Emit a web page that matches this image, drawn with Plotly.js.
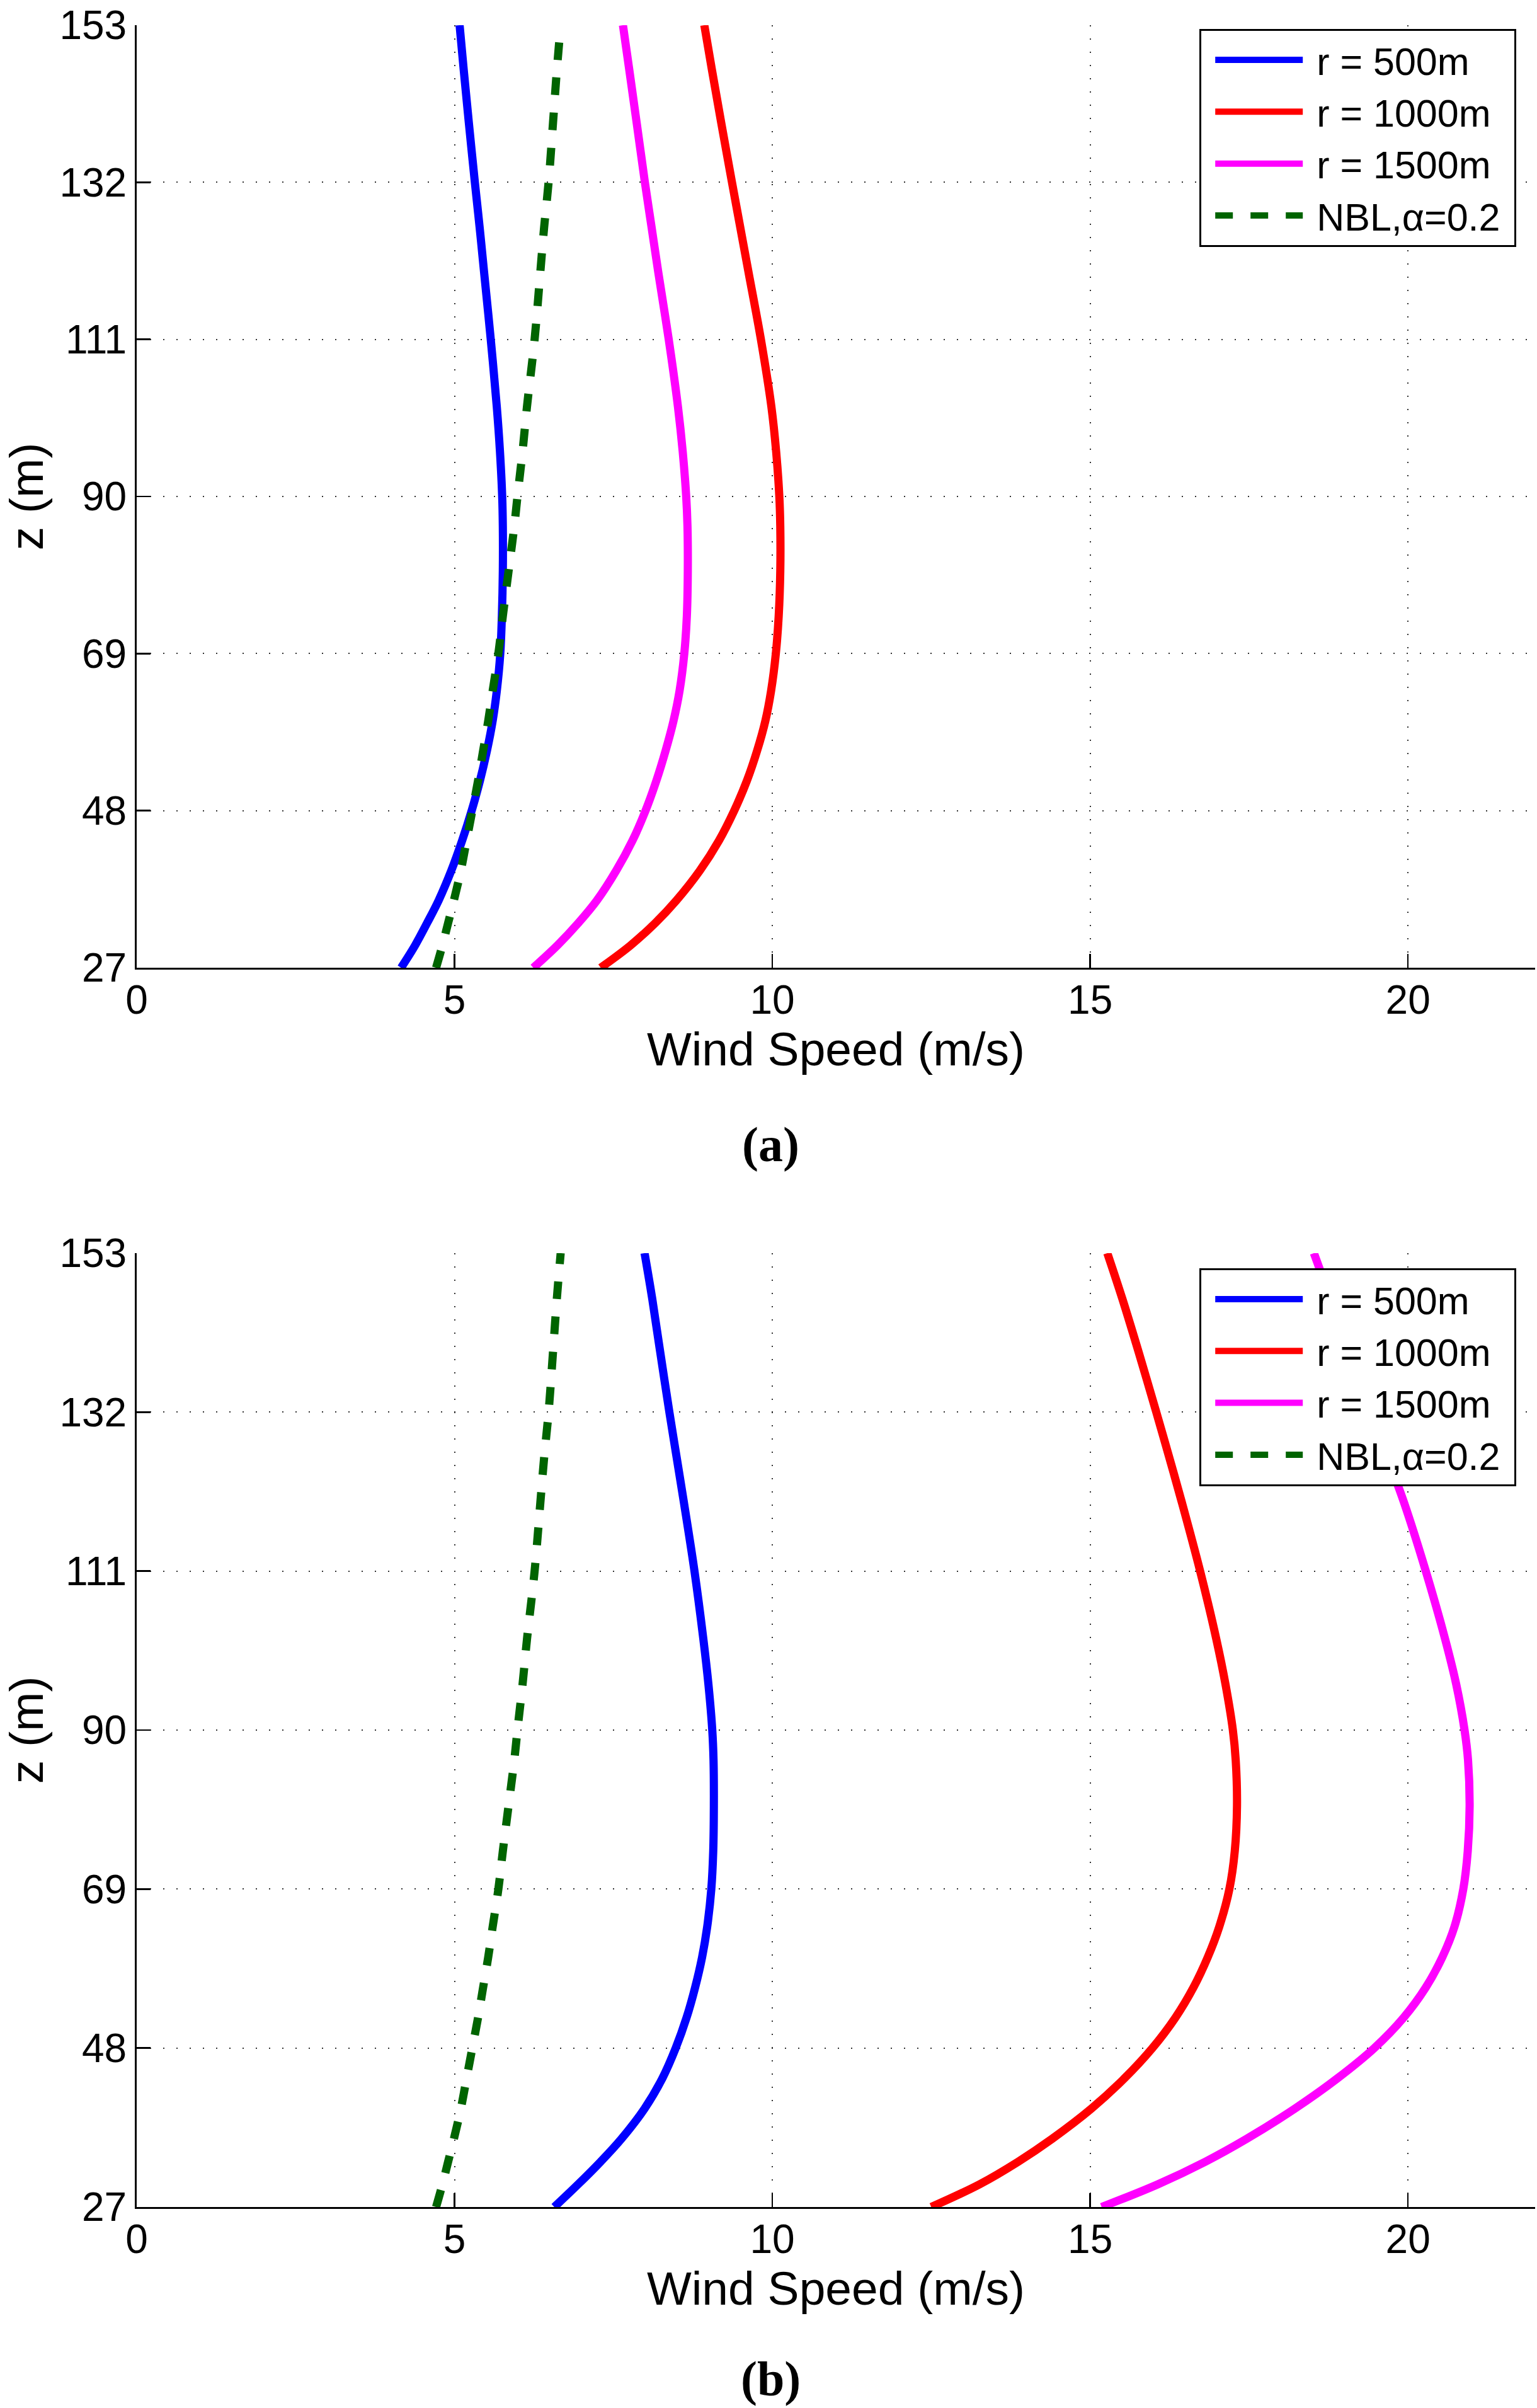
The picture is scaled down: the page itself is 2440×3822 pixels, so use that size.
<!DOCTYPE html>
<html>
<head>
<meta charset="utf-8">
<script src="https://cdn.plot.ly/plotly-3.0.1.min.js"></script>
<style>html,body{margin:0;padding:0;background:#fff;}#chart{width:2440px;height:3822px;}</style>
</head>
<body>
<div id="chart"></div>
<script>
// Heights (m) at which the profiles were read
const zHeights = [27, 30, 33, 36, 40, 44, 48, 52, 56, 60, 64, 69, 74, 80, 86, 90, 96, 102, 111, 120, 126, 132, 140, 147, 153];

// Panel (a) wind speeds (m/s)
const a_r500  = [4.16, 4.38, 4.57, 4.75, 4.95, 5.12, 5.27, 5.40, 5.51, 5.60, 5.665, 5.72, 5.745, 5.76, 5.76, 5.75, 5.715, 5.665, 5.57, 5.465, 5.395, 5.32, 5.225, 5.145, 5.08];
const a_r1000 = [7.30, 7.77, 8.16, 8.49, 8.86, 9.16, 9.40, 9.60, 9.76, 9.89, 9.98, 10.055, 10.10, 10.125, 10.125, 10.11, 10.06, 9.985, 9.82, 9.625, 9.495, 9.365, 9.195, 9.05, 8.93];
const a_r1500 = [6.24, 6.62, 6.95, 7.24, 7.545, 7.80, 8.005, 8.175, 8.32, 8.445, 8.54, 8.615, 8.655, 8.67, 8.665, 8.645, 8.59, 8.515, 8.37, 8.205, 8.10, 7.995, 7.865, 7.75, 7.65];
const a_nbl   = [4.71, 4.81, 4.90, 4.99, 5.10, 5.19, 5.28, 5.37, 5.45, 5.53, 5.60, 5.69, 5.76, 5.85, 5.94, 5.99, 6.07, 6.14, 6.26, 6.35, 6.41, 6.48, 6.55, 6.61, 6.67];

// Panel (b) wind speeds (m/s)
const b_r500  = [6.57, 6.945, 7.30, 7.625, 7.99, 8.27, 8.48, 8.65, 8.785, 8.895, 8.975, 9.04, 9.07, 9.08, 9.075, 9.055, 8.995, 8.915, 8.775, 8.61, 8.495, 8.38, 8.235, 8.11, 7.99];
const b_r1000 = [12.50, 13.26, 13.87, 14.40, 15.02, 15.54, 15.98, 16.34, 16.625, 16.85, 17.03, 17.19, 17.275, 17.31, 17.29, 17.245, 17.13, 16.985, 16.73, 16.445, 16.245, 16.04, 15.76, 15.505, 15.27];
const b_r1500 = [15.18, 16.065, 16.815, 17.46, 18.22, 18.89, 19.47, 19.93, 20.28, 20.54, 20.73, 20.87, 20.94, 20.97, 20.945, 20.89, 20.76, 20.585, 20.28, 19.94, 19.68, 19.42, 19.08, 18.78, 18.52];
const b_nbl   = [4.71, 4.81, 4.90, 4.99, 5.10, 5.19, 5.28, 5.37, 5.45, 5.53, 5.60, 5.69, 5.76, 5.85, 5.94, 5.99, 6.07, 6.14, 6.26, 6.35, 6.41, 6.48, 6.55, 6.61, 6.67];

const seriesNames = ['r = 500m', 'r = 1000m', 'r = 1500m', 'NBL,\u03b1=0.2'];
const seriesColors = ['#0000ff', '#ff0000', '#ff00ff', '#006400'];
const yTicks = [27, 48, 69, 90, 111, 132, 153];
const xTicks = [0, 5, 10, 15, 20];

const FONT = 'Liberation Sans, Arial, Helvetica, sans-serif';
const NB = '\u00a0';

function mk(x, i, xa, ya, leg) {
  return {
    x: x, y: zHeights, type: 'scatter', mode: 'lines',
    name: NB + seriesNames[i] + NB, xaxis: xa, yaxis: ya, legend: leg,
    line: {color: seriesColors[i], width: 13, shape: 'spline', smoothing: 1.0,
           dash: i === 3 ? '28px,28px' : 'solid'}
  };
}

const traces = [
  mk(a_r500, 0, 'x', 'y', 'legend'),
  mk(a_r1000, 1, 'x', 'y', 'legend'),
  mk(a_r1500, 2, 'x', 'y', 'legend'),
  mk(a_nbl, 3, 'x', 'y', 'legend'),
  mk(b_r500, 0, 'x2', 'y2', 'legend2'),
  mk(b_r1000, 1, 'x2', 'y2', 'legend2'),
  mk(b_r1500, 2, 'x2', 'y2', 'legend2'),
  mk(b_nbl, 3, 'x2', 'y2', 'legend2')
];

function xax(anchor) {
  return {
    anchor: anchor, range: [0, 22], tickvals: xTicks, ticktext: xTicks.map(String),
    showline: true, linecolor: '#000', linewidth: 3, mirror: false,
    ticks: 'inside', ticklen: 22, tickwidth: 2.5, tickcolor: '#000',
    showgrid: true, gridcolor: '#333', gridwidth: 2, griddash: '2px,19px',
    zeroline: false, tickfont: {family: FONT, size: 64, color: '#000'},
    ticklabelstandoff: -7,
    title: {text: 'Wind Speed (m/s)', font: {family: FONT, size: 75, color: '#000'}, standoff: 0},
    automargin: false, fixedrange: true
  };
}
function yax(anchor, domain) {
  return {
    anchor: anchor, domain: domain, range: [27, 153], tickvals: yTicks, ticktext: yTicks.map(String),
    showline: true, linecolor: '#000', linewidth: 3, mirror: false,
    ticks: 'inside', ticklen: 22, tickwidth: 2.5, tickcolor: '#000',
    showgrid: true, gridcolor: '#333', gridwidth: 2, griddash: '2px,19px',
    zeroline: false, tickfont: {family: FONT, size: 64, color: '#000'},
    ticklabeloverflow: 'allow',
    title: {text: 'z (m)', font: {family: FONT, size: 75, color: '#000'}, standoff: 32},
    automargin: false, fixedrange: true
  };
}

const legendStyle = {
  bgcolor: '#fff', bordercolor: '#000', borderwidth: 3,
  font: {family: FONT, size: 61, color: '#000'},
  xanchor: 'left', yanchor: 'top', itemwidth: 139, indentation: 17, tracegroupgap: 0
};

const layout = {
  width: 2440, height: 3822,
  margin: {l: 217, r: 3, t: 40, b: 319},
  paper_bgcolor: '#fff', plot_bgcolor: '#fff',
  showlegend: true,
  xaxis: xax('y'),
  yaxis: yax('x', [0.5680, 1]),
  xaxis2: xax('y2'),
  yaxis2: yax('x2', [0, 0.4372]),
  legend: Object.assign({x: 0.760, y: 0.9983}, legendStyle),
  legend2: Object.assign({x: 0.760, y: 0.4303}, legendStyle),
  annotations: [
    {text: '<b>(a)</b>', xref: 'paper', yref: 'paper', x: 0.4536, y: 0.4871,
     showarrow: false, xanchor: 'center', yanchor: 'middle',
     font: {family: 'Liberation Serif, Times New Roman, serif', size: 78, color: '#000'}},
    {text: '<b>(b)</b>', xref: 'paper', yref: 'paper', x: 0.4536, y: -0.0788,
     showarrow: false, xanchor: 'center', yanchor: 'middle',
     font: {family: 'Liberation Serif, Times New Roman, serif', size: 78, color: '#000'}}
  ]
};

Plotly.newPlot('chart', traces, layout, {staticPlot: true, displayModeBar: false});
</script>
</body>
</html>
